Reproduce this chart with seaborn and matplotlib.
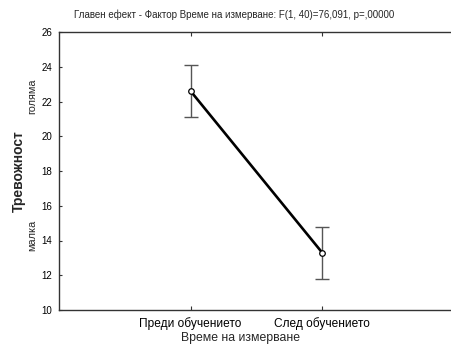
import matplotlib
matplotlib.use("Agg")
import matplotlib.pyplot as plt
import matplotlib.transforms as mtransforms
import seaborn as sns
import pandas as pd

# Means and error half-widths for the two measurement times
times = ["Преди обучението", "След обучението"]
means = [22.6, 13.3]
err = [1.5, 1.5]

y_ticks = [10, 12, 14, 16, 18, 20, 22, 24, 26]
level_labels = ["голяма", "малка"]
level_positions = [22.3, 14.3]

title = "Главен ефект - Фактор Време на измерване: F(1, 40)=76,091, p=,00000"
x_label = "Време на измерване"
y_label = "Тревожност"

sns.set_style("ticks")
plt.rcParams["font.family"] = ["Liberation Sans", "DejaVu Sans"]

df = pd.DataFrame({"time": times, "mean": means, "err": err})

fig = plt.figure(figsize=(4.52, 3.47), dpi=100)
ax = fig.add_axes([59 / 452, 1 - 310 / 347, 1 - 59 / 452 + 0.004, (310 - 32) / 347])

# Error bars (drawn beneath the line)
ax.errorbar(x=[0, 1], y=df["mean"], yerr=df["err"], fmt="none",
            ecolor="#555555", elinewidth=1.0, capsize=4.8, capthick=1.0, zorder=2)

sns.lineplot(data=df, x="time", y="mean", ax=ax, color="black", linewidth=1.9,
             marker="o", markersize=4.0, markerfacecolor="white",
             markeredgecolor="black", markeredgewidth=0.9, zorder=3)

ax.set_xlim(-1, 2)
ax.set_ylim(10, 26)
ax.set_yticks(y_ticks)
ax.set_yticklabels([str(t) for t in y_ticks], fontsize=7)
ax.set_xticks([0, 1])
ax.set_xticklabels(times, fontsize=8.6)

ax.tick_params(axis="x", direction="in", length=3, width=0.8, top=True, bottom=True,
               pad=5, colors="#333333", labelcolor="black")
ax.tick_params(axis="y", direction="in", length=2, width=0.8, left=True, right=False,
               pad=5, colors="#333333", labelcolor="black")

for side in ["left", "top", "bottom"]:
    ax.spines[side].set_color("#333333")
    ax.spines[side].set_linewidth(1.0)
ax.spines["right"].set_visible(False)

ax.set_xlabel("")
ax.set_ylabel(y_label, fontsize=10, fontweight="bold", labelpad=11)

# Verbal anchors for the anxiety scale
trans = mtransforms.blended_transform_factory(ax.transAxes, ax.transData)
for lab, pos in zip(level_labels, level_positions):
    ax.text(-0.068, pos, lab, transform=trans, rotation=90, fontsize=7.8,
            family=["Liberation Sans Narrow", "Liberation Sans", "DejaVu Sans"],
            ha="center", va="center")

fig.text(234 / 452, 1 - 15 / 347, title, fontsize=7, ha="center", va="center")
fig.text(241 / 452, 1 - 338 / 347, x_label, fontsize=8.8, ha="center", va="center")

fig.savefig("out.png", dpi=100)
